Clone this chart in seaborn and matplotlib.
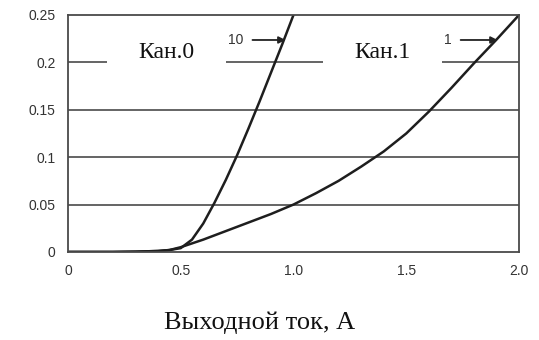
import pandas as pd
import seaborn as sns
import matplotlib.pyplot as plt
from matplotlib.patches import Rectangle

# output current, A
x10 = [0, 0.1, 0.2, 0.3, 0.4, 0.45, 0.5, 0.55, 0.6, 0.65, 0.7, 0.75, 0.8, 0.85, 0.9, 0.95, 1.0]
y10 = [0, 0, 0, 0.0003, 0.001, 0.002, 0.004, 0.013, 0.03, 0.052, 0.076, 0.102, 0.13, 0.159, 0.189, 0.219, 0.25]

x1 = [0, 0.1, 0.2, 0.3, 0.4, 0.45, 0.5, 0.6, 0.7, 0.8, 0.9, 1.0, 1.1, 1.2, 1.3, 1.4, 1.5, 1.6, 1.7, 1.8, 1.9, 2.0]
y1 = [0, 0, 0, 0.0003, 0.001, 0.002, 0.005, 0.013, 0.022, 0.031, 0.04, 0.05, 0.062, 0.075, 0.09, 0.106,
      0.125, 0.148, 0.173, 0.199, 0.224, 0.25]

xticks = [0, 0.5, 1.0, 1.5, 2.0]
xticklabels = ['0', '0.5', '1.0', '1.5', '2.0']
yticks = [0, 0.05, 0.1, 0.15, 0.2, 0.25]
yticklabels = ['0', '0.05', '0.1', '0.15', '0.2', '0.25']

channels = ['Кан.0', 'Кан.1']
chan_x = [0.438, 1.394]
curve_names = ['10', '1']

df = pd.concat([
    pd.DataFrame({'x': x10, 'y': y10, 'curve': '10'}),
    pd.DataFrame({'x': x1, 'y': y1, 'curve': '1'}),
])

sns.set_style('white')
plt.rcParams['font.family'] = ['Liberation Sans', 'DejaVu Sans']

fig = plt.figure(figsize=(5.39, 3.40), dpi=100)
ax = fig.add_axes([0.126, 0.259, 0.837, 0.697])

sns.lineplot(data=df, x='x', y='y', hue='curve', palette=['#1e1e1e', '#1e1e1e'],
             linewidth=1.8, legend=False, ax=ax, sort=False)

ax.set_xlim(0, 2.0)
ax.set_ylim(0, 0.25)
ax.set_xticks(xticks)
ax.set_xticklabels(xticklabels)
ax.set_yticks(yticks)
ax.set_yticklabels(yticklabels)
ax.set_xlabel('')
ax.set_ylabel('')
for v in yticks[1:-1]:
    ax.axhline(v, color='#4a4a4a', lw=1.2, zorder=0)
for s in ax.spines.values():
    s.set_color('#4a4a4a')
    s.set_linewidth(1.3)
ax.tick_params(axis='both', direction='out', length=5, width=1.2, color='#4a4a4a',
               labelsize=10, labelcolor='#333333', pad=4)

# label boxes covering the 0.2 gridline
for name, cx in zip(channels, chan_x):
    ax.add_patch(Rectangle((cx - 0.265, 0.187), 0.53, 0.045, facecolor='white',
                           edgecolor='none', zorder=3))
    ax.text(cx, 0.2105, name, ha='center', va='center', fontsize=17,
            family='Liberation Serif', color='#111111', zorder=4)

# curve markers with arrows
ax.annotate(curve_names[0], xy=(0.965, 0.2236), xytext=(0.745, 0.2236),
            ha='center', va='center', fontsize=10, color='#333333',
            arrowprops=dict(arrowstyle='-|>', color='#222222', lw=1.3, shrinkA=4, shrinkB=0))
ax.annotate(curve_names[1], xy=(1.905, 0.2236), xytext=(1.685, 0.2236),
            ha='center', va='center', fontsize=10, color='#333333',
            arrowprops=dict(arrowstyle='-|>', color='#222222', lw=1.3, shrinkA=4, shrinkB=0))

fig.text(260 / 539, 1 - 323 / 340, 'Выходной ток, А', ha='center', va='center',
         fontsize=19, family='Liberation Serif', color='#111111')

fig.savefig('out.png', dpi=100)
